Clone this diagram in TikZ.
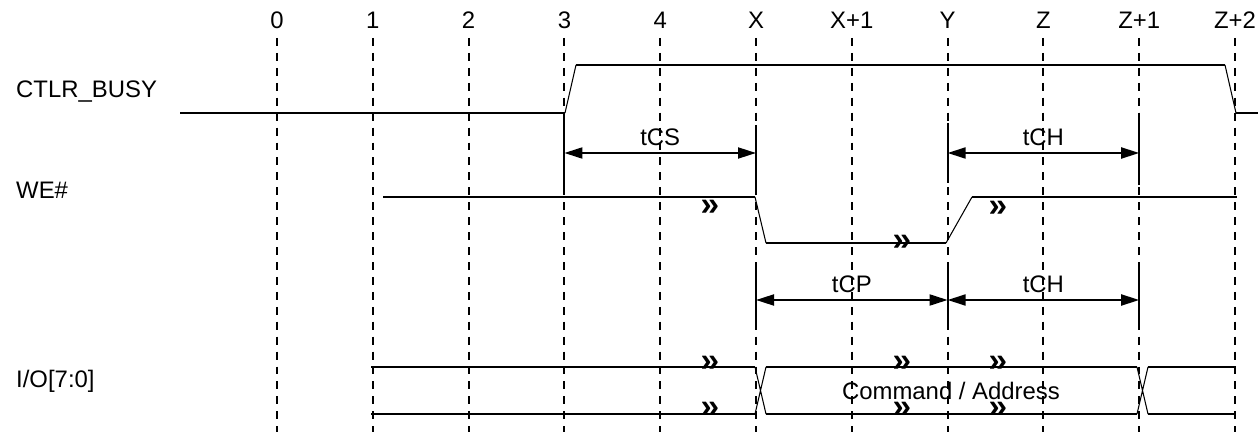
\documentclass[tikz,border=0pt]{standalone}
\usepackage{fontspec}
\setmainfont{Liberation Sans}
\usetikzlibrary{arrows.meta}

\begin{document}
\begin{tikzpicture}[x=0.02cm, y=-0.02cm,
  every node/.style={font=\fontsize{13.6}{16}\selectfont},
  grid/.style={dash pattern=on 4.5pt off 4pt, line width=1.1pt},
  sig/.style={line width=1.1pt},
  edge/.style={line width=0.6pt},
  ext/.style={line width=1.1pt},
  dim/.style={{Triangle[length=0.36cm,width=0.22cm]}-{Triangle[length=0.36cm,width=0.22cm]}, line width=1.1pt},
  lab/.style={midway, above},
  brk/.style={font=\fontsize{19}{20}\selectfont\bfseries, inner sep=0pt}]

\useasboundingbox (0,0) rectangle (1258,432);

\foreach \txt [count=\i from 0] in {0,1,2,3,4,X,X+1,Y,Z,Z+1,Z+2} {
  \node (t\i) at (277+95.8*\i,20) {\txt};
  \coordinate (g\i) at (277+95.8*\i,38);
  \coordinate (b\i) at (277+95.8*\i,432);
  \draw[grid] (g\i) -- (b\i);
}

\node[anchor=west] (busy) at (10,92) {CTLR\_BUSY};
\node[anchor=west] (we) at (10,190) {WE\#};
\node[anchor=west] (io) at (10,381) {I/O[7:0]};

\draw[sig] (180,113) -- (565,113) (576,65) -- (1225,65) (1236,113) -- (1258,113);
\draw[edge] (565,113) -- (576,65) (1225,65) -- (1236,113);

\draw[sig] (383,197) -- (755,197) (766,243) -- (946,243) (972,197) -- (1237,197);
\draw[edge] (755,197) -- (766,243) (946,243) -- (972,197);

\draw[sig] (371,367) -- (755,367) (371,414) -- (755,414) (766,367) -- (1137,367) (766,414) -- (1137,414)
  (1148,367) -- (1236,367) (1148,414) -- (1236,414);
\draw[edge] (755,367) -- (766,414) (755,414) -- (766,367) (1137,367) -- (1148,414) (1137,414) -- (1148,367);
\node (cmd) at (951,391) {Command / Address};

\foreach \p [count=\k] in {(710,208),(902,243),(998,209),(710,364),(902,364),(998,364),(710,410),(902,410),(998,410)}
  \node[brk] (m\k) at \p {»};

\draw[ext] (t3 |- 0,113) -- (t3 |- 0,187) (t5 |- 0,125) -- (t5 |- 0,187);
\draw[ext] (t7 |- 0,123) -- (t7 |- 0,183) (t9 |- 0,113) -- (t9 |- 0,185);
\draw[ext] (t5 |- 0,268) -- (t5 |- 0,330) (t7 |- 0,268) -- (t7 |- 0,330) (t9 |- 0,268) -- (t9 |- 0,330);

\draw[dim] (t3 |- 0,153) -- node[lab] (tcs) {tCS} (t5 |- 0,153);
\draw[dim] (t7 |- 0,153) -- node[lab] (tch1) {tCH} (t9 |- 0,153);
\draw[dim] (t5 |- 0,300) -- node[lab] (tcp) {tCP} (t7 |- 0,300);
\draw[dim] (t7 |- 0,300) -- node[lab] (tch2) {tCH} (t9 |- 0,300);
\end{tikzpicture}
\end{document}
